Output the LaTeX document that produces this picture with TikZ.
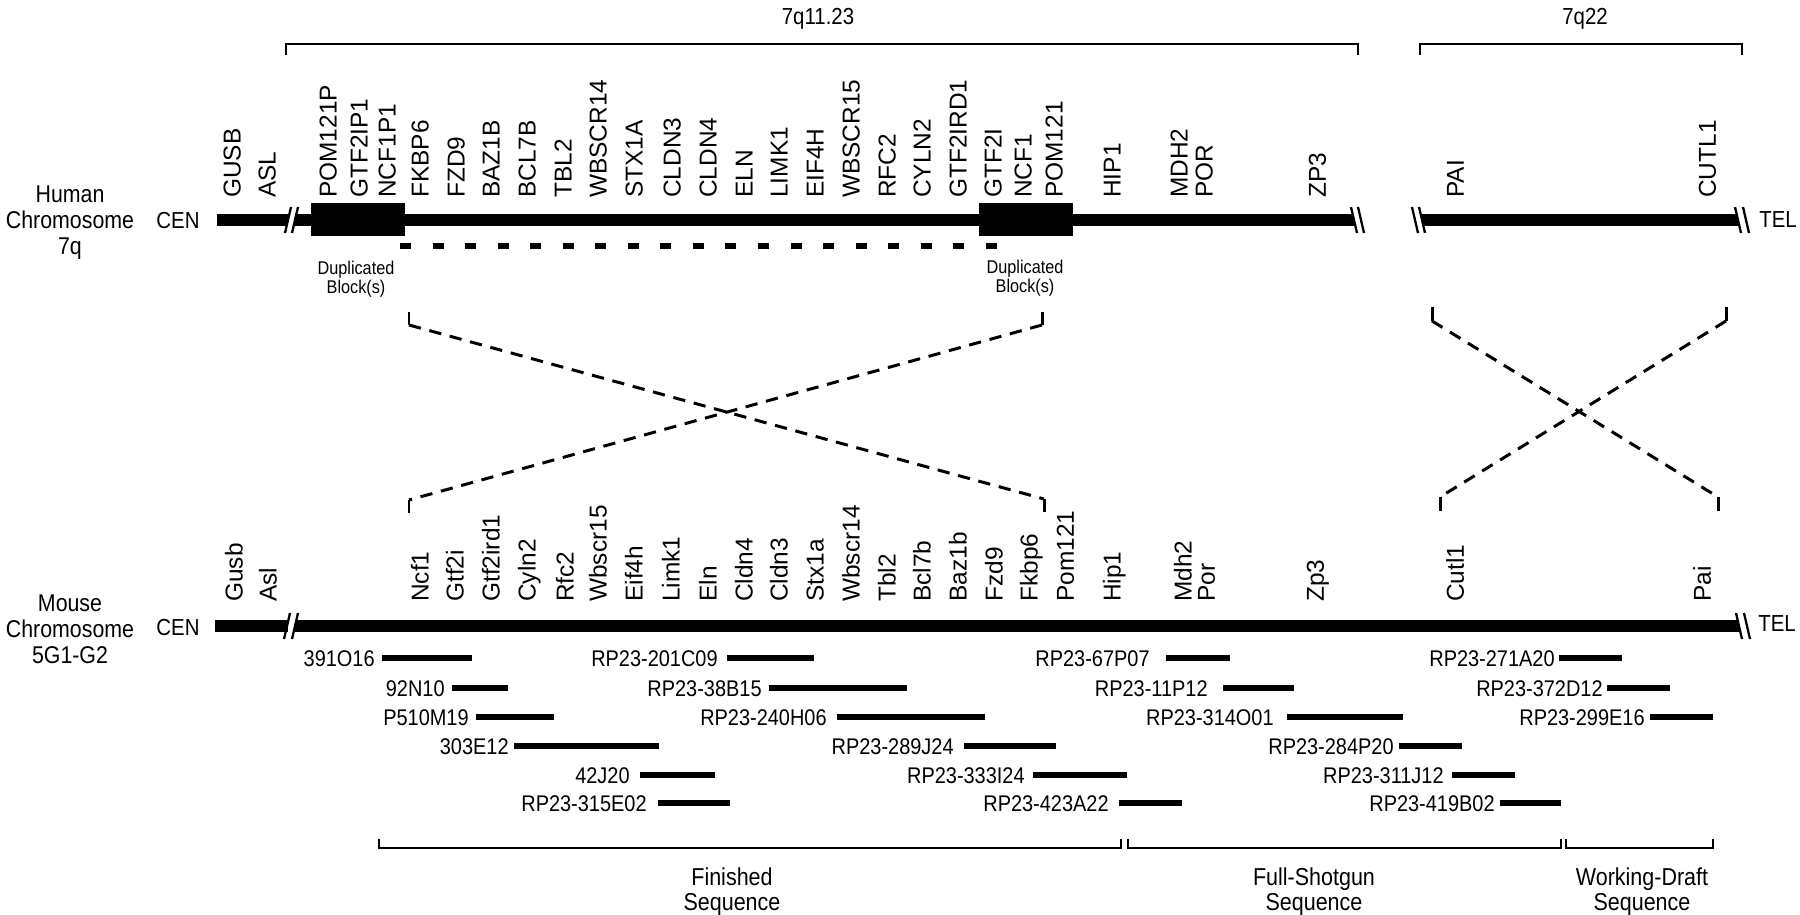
\documentclass[tikz,border=0pt]{standalone}
\usepackage{fontspec}
\setmainfont{Liberation Sans}
\newfontfamily\narrowfont[FakeStretch=0.88]{Liberation Sans}

\begin{document}
\begin{tikzpicture}[x=0.02cm, y=-0.02cm,
    chrom/.style={line width=0.24cm},
    cut/.style={line width=1.3pt},
    block/.style={fill=black},
    dupline/.style={line width=0.12cm, dash pattern=on 0.22cm off 0.431cm},
    bracket/.style={line width=0.8pt},
    syn/.style={line width=1.7pt, dash pattern=on 7pt off 5pt},
    syntick/.style={line width=1.7pt},
    gene/.style={rotate=90, anchor=west, inner sep=0pt, text height=9.95pt, text depth=0pt, font=\fontsize{13.9}{14}\selectfont},
    side/.style={align=center, inner sep=0pt, font=\narrowfont\fontsize{13.8}{14.8}\selectfont},
    endlbl/.style={inner sep=0pt, text height=9.45pt, text depth=0pt, font=\narrowfont\fontsize{13.2}{14}\selectfont},
    dup/.style={align=center, inner sep=0pt, font=\narrowfont\fontsize{10.5}{10.8}\selectfont},
    clonelbl/.style={anchor=east, inner sep=0pt, text height=9.24pt, text depth=0pt, font=\narrowfont\fontsize{12.9}{13}\selectfont},
    clone/.style={line width=0.12cm},
    status/.style={align=center, inner sep=0pt, font=\narrowfont\fontsize{13.9}{14.2}\selectfont}]
  \useasboundingbox (0,0) rectangle (1800,915);

  % regions on 7q
  \draw[bracket] (286,55) |- (1358,44) -- (1358,55);
  \node[endlbl] (q1123) at (818,16) {7q11.23};
  \draw[bracket] (1420,55) |- (1742,44) -- (1742,55);
  \node[endlbl] (q22) at (1585,16) {7q22};

  % human chromosome
  \node[side] (human) at (70,223) {Human\\Chromosome\\7q};
  \node[endlbl] (hcen) at (178,220) {CEN};
  \node[endlbl] (htel) at (1778,219) {TEL};
  \draw[chrom] (217,220) -- (288,220);
  \draw[chrom] (295,220) -- (1354,220);
  \draw[chrom] (1422,220) -- (1738,220);
  \draw[cut] (285,233) -- (291,207) (292,233) -- (298,207);
  \draw[cut] (1351,207) -- (1357,233) (1358,207) -- (1364,233);
  \draw[cut] (1412,207) -- (1418,233) (1419,207) -- (1425,233);
  \draw[cut] (1735,207) -- (1741,233) (1743,207) -- (1749,233);
  \fill[block] (311,203) rectangle (405,236);
  \fill[block] (979,203) rectangle (1073,236);
  \draw[dupline] (400,246) -- (998,246);
  \node[dup] (dupA) at (356,279) {Duplicated\\Block(s)};
  \node[dup] (dupB) at (1025,278) {Duplicated\\Block(s)};

  \node[gene] (hGUSB) at (232,198) {GUSB};
  \node[gene] (hASL) at (267,198) {ASL};
  \node[gene] (hPOM121P) at (328,198) {POM121P};
  \node[gene] (hGTF2IP1) at (359,198) {GTF2IP1};
  \node[gene] (hNCF1P1) at (387,198) {NCF1P1};
  \node[gene] (hFKBP6) at (420,198) {FKBP6};
  \node[gene] (hFZD9) at (456,198) {FZD9};
  \node[gene] (hBAZ1B) at (491,198) {BAZ1B};
  \node[gene] (hBCL7B) at (527,198) {BCL7B};
  \node[gene] (hTBL2) at (563,198) {TBL2};
  \node[gene] (hWBSCR14) at (598,198) {WBSCR14};
  \node[gene] (hSTX1A) at (634,198) {STX1A};
  \node[gene] (hCLDN3) at (672,198) {CLDN3};
  \node[gene] (hCLDN4) at (708,198) {CLDN4};
  \node[gene] (hELN) at (744,198) {ELN};
  \node[gene] (hLIMK1) at (779,198) {LIMK1};
  \node[gene] (hEIF4H) at (815,198) {EIF4H};
  \node[gene] (hWBSCR15) at (851,198) {WBSCR15};
  \node[gene] (hRFC2) at (887,198) {RFC2};
  \node[gene] (hCYLN2) at (922,198) {CYLN2};
  \node[gene] (hGTF2IRD1) at (958,198) {GTF2IRD1};
  \node[gene] (hGTF2I) at (993,198) {GTF2I};
  \node[gene] (hNCF1) at (1023,198) {NCF1};
  \node[gene] (hPOM121) at (1054,198) {POM121};
  \node[gene] (hHIP1) at (1112,198) {HIP1};
  \node[gene] (hMDH2) at (1179,198) {MDH2};
  \node[gene] (hPOR) at (1204,198) {POR};
  \node[gene] (hZP3) at (1317,198) {ZP3};
  \node[gene] (hPAI) at (1455,198) {PAI};
  \node[gene] (hCUTL1) at (1707,198) {CUTL1};

  % inverted segments
  \coordinate (hL) at (409,325);
  \coordinate (hR) at (1042,325);
  \coordinate (mL) at (409,500);
  \coordinate (mR) at (1044,499);
  \draw[syntick] (hL) -- ++(0,-13) (hR) -- ++(0,-13) (mL) -- ++(0,13) (mR) -- ++(0,13);
  \draw[syn] (hL) -- (mR);
  \draw[syn] (hR) -- (mL);
  \coordinate (hP) at (1432,321);
  \coordinate (hC) at (1726,321);
  \coordinate (mC) at (1440,497);
  \coordinate (mP) at (1718,497);
  \draw[syntick] (hP) -- ++(0,-14) (hC) -- ++(0,-14) (mC) -- ++(0,14) (mP) -- ++(0,14);
  \draw[syn] (hP) -- (mP);
  \draw[syn] (hC) -- (mC);

  % mouse chromosome
  \node[side] (mouse) at (70,629) {Mouse\\Chromosome\\5G1-G2};
  \node[endlbl] (mcen) at (178,627) {CEN};
  \node[endlbl] (mtel) at (1777,623) {TEL};
  \draw[chrom] (215,626) -- (288,626);
  \draw[chrom] (295,626) -- (1739,626);
  \draw[cut] (284,639) -- (290,613) (292,639) -- (298,613);
  \draw[cut] (1736,613) -- (1742,639) (1744,613) -- (1750,639);

  \node[gene] (mGusb) at (234,602) {Gusb};
  \node[gene] (mAsl) at (268,602) {Asl};
  \node[gene] (mNcf1) at (420,602) {Ncf1};
  \node[gene] (mGtf2i) at (455,602) {Gtf2i};
  \node[gene] (mGtf2ird1) at (491,602) {Gtf2ird1};
  \node[gene] (mCyln2) at (527,602) {Cyln2};
  \node[gene] (mRfc2) at (565,602) {Rfc2};
  \node[gene] (mWbscr15) at (598,602) {Wbscr15};
  \node[gene] (mEif4h) at (634,602) {Eif4h};
  \node[gene] (mLimk1) at (671,602) {Limk1};
  \node[gene] (mEln) at (708,602) {Eln};
  \node[gene] (mCldn4) at (744,602) {Cldn4};
  \node[gene] (mCldn3) at (779,602) {Cldn3};
  \node[gene] (mStx1a) at (815,602) {Stx1a};
  \node[gene] (mWbscr14) at (851,602) {Wbscr14};
  \node[gene] (mTbl2) at (887,602) {Tbl2};
  \node[gene] (mBcl7b) at (922,602) {Bcl7b};
  \node[gene] (mBaz1b) at (958,602) {Baz1b};
  \node[gene] (mFzd9) at (994,602) {Fzd9};
  \node[gene] (mFkbp6) at (1029,602) {Fkbp6};
  \node[gene] (mPom121) at (1065,602) {Pom121};
  \node[gene] (mHip1) at (1112,602) {Hip1};
  \node[gene] (mMdh2) at (1183,602) {Mdh2};
  \node[gene] (mPor) at (1206,602) {Por};
  \node[gene] (mZp3) at (1315,602) {Zp3};
  \node[gene] (mCutl1) at (1455,602) {Cutl1};
  \node[gene] (mPai) at (1702,602) {Pai};

  % clones
  \node[clonelbl] (k391O16) at (375,658) {391O16};
  \draw[clone] (382,658) -- (472,658);
  \node[clonelbl] (k201C09) at (718,658) {RP23-201C09};
  \draw[clone] (727,658) -- (814,658);
  \node[clonelbl] (k67P07) at (1150,658) {RP23-67P07};
  \draw[clone] (1166,658) -- (1230,658);
  \node[clonelbl] (k271A20) at (1555,658) {RP23-271A20};
  \draw[clone] (1559,658) -- (1622,658);

  \node[clonelbl] (k92N10) at (445,688) {92N10};
  \draw[clone] (452,688) -- (508,688);
  \node[clonelbl] (k38B15) at (762,688) {RP23-38B15};
  \draw[clone] (769,688) -- (907,688);
  \node[clonelbl] (k11P12) at (1208,688) {RP23-11P12};
  \draw[clone] (1223,688) -- (1294,688);
  \node[clonelbl] (k372D12) at (1603,688) {RP23-372D12};
  \draw[clone] (1607,688) -- (1670,688);

  \node[clonelbl] (kP510M19) at (469,717) {P510M19};
  \draw[clone] (476,717) -- (554,717);
  \node[clonelbl] (k240H06) at (827,717) {RP23-240H06};
  \draw[clone] (837,717) -- (985,717);
  \node[clonelbl] (k314O01) at (1274,717) {RP23-314O01};
  \draw[clone] (1287,717) -- (1403,717);
  \node[clonelbl] (k299E16) at (1645,717) {RP23-299E16};
  \draw[clone] (1650,717) -- (1713,717);

  \node[clonelbl] (k303E12) at (509,746) {303E12};
  \draw[clone] (514,746) -- (659,746);
  \node[clonelbl] (k289J24) at (954,746) {RP23-289J24};
  \draw[clone] (964,746) -- (1056,746);
  \node[clonelbl] (k284P20) at (1394,746) {RP23-284P20};
  \draw[clone] (1399,746) -- (1462,746);

  \node[clonelbl] (k42J20) at (630,775) {42J20};
  \draw[clone] (640,775) -- (715,775);
  \node[clonelbl] (k333I24) at (1025,775) {RP23-333I24};
  \draw[clone] (1033,775) -- (1127,775);
  \node[clonelbl] (k311J12) at (1444,775) {RP23-311J12};
  \draw[clone] (1452,775) -- (1515,775);

  \node[clonelbl] (k315E02) at (647,803) {RP23-315E02};
  \draw[clone] (658,803) -- (730,803);
  \node[clonelbl] (k423A22) at (1109,803) {RP23-423A22};
  \draw[clone] (1119,803) -- (1182,803);
  \node[clonelbl] (k419B02) at (1495,803) {RP23-419B02};
  \draw[clone] (1500,803) -- (1561,803);

  % sequence status
  \draw[bracket] (379,839) |- (1121,848) -- (1121,839);
  \draw[bracket] (1128,839) |- (1561,848) -- (1561,839);
  \draw[bracket] (1566,839) |- (1713,848) -- (1713,839);
  \node[status] (fin) at (732,892) {Finished\\Sequence};
  \node[status] (fsg) at (1314,892) {Full-Shotgun\\Sequence};
  \node[status] (wds) at (1642,892) {Working-Draft\\Sequence};
\end{tikzpicture}
\end{document}
